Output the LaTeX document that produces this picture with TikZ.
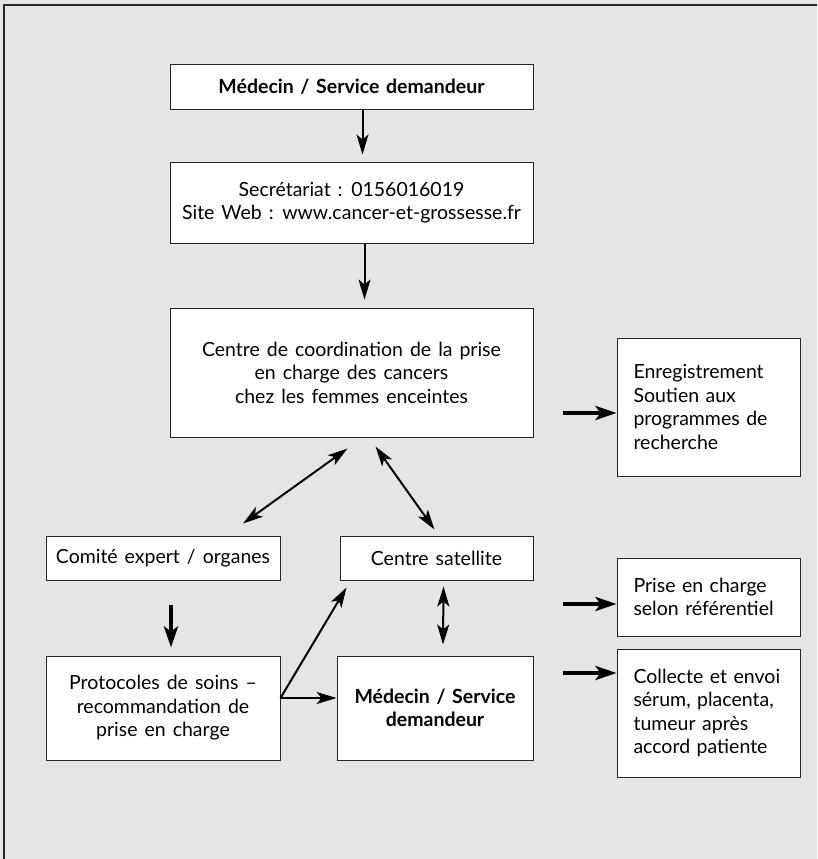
\documentclass[tikz,border=0pt]{standalone}
\usepackage{fontspec}
\setmainfont{Lato}[WordSpace={1.4}]
\usepackage{tikz}
\usetikzlibrary{arrows.meta}
\usetikzlibrary{positioning}
\tikzset{
  box/.style = {rectangle, draw=black!85, line width=1pt, fill=white,
    align=center, inner sep=0pt, font=\fontsize{19.5}{23.5}\selectfont},
  boldbox/.style = {box, font=\fontsize{19.5}{23.5}\selectfont\bfseries},
  sidebox/.style = {box, align=left, text width=150pt, minimum width=183pt},
  tip/.style = {Stealth[length=20pt,width=12pt,inset=5pt]},
  arr/.style = {-{Stealth[length=20pt,width=12pt,inset=5pt]}, line width=2pt},
  dblarr/.style = {{Stealth[length=20pt,width=12pt,inset=5pt]}-{Stealth[length=20pt,width=12pt,inset=5pt]},
    line width=2pt},
  fatarr/.style = {-{Stealth[length=21pt,width=14pt,inset=5pt]}, line width=4.5pt}
}

\begin{document}
\begin{tikzpicture}[x=1pt, y=-1pt]
  \useasboundingbox (0,0) rectangle (817,859);
  \fill[black!10] (0,0) rectangle (817,859);
  \draw[line width=2pt, black!85] (4,859) -- (4,5) -- (817,5);

  % main column
  \node (med top) [boldbox, minimum width=363pt, minimum height=44pt]
    at (351.5,87) {Médecin / Service demandeur};
  \node (secr) [box, minimum width=363pt, minimum height=81pt]
    at (351.5,202.5) {Secrétariat : 0156016019\\Site Web : www.cancer-et-grossesse.fr};
  \node (centre) [box, minimum width=363pt, minimum height=129pt]
    at (351.5,372.5) {Centre de coordination de la prise\\en charge des cancers\\chez les femmes enceintes};

  % second level
  \node (comite) [box, minimum width=234pt, minimum height=44pt]
    at (163,558) {Comité expert / organes};
  \node (satel) [box, minimum width=193pt, minimum height=44pt]
    at (436.5,558) {Centre satellite};
  \node (proto) [box, minimum width=234pt, minimum height=104pt]
    at (163,708) {Protocoles de soins --\\recommandation de\\prise en charge};
  \node (med bot) [boldbox, minimum width=196pt, minimum height=104pt]
    at (435,708) {Médecin / Service\\demandeur};

  % right column
  \node (enreg) [sidebox, minimum height=138pt]
    at (708.5,407) {Enregistrement\\Soutien aux\\programmes de\\recherche};
  \node (prise) [sidebox, minimum height=78pt]
    at (708.5,597) {Prise en charge\\selon référentiel};
  \node (collecte) [sidebox, minimum height=128pt]
    at (708.5,713) {Collecte et envoi\\sérum, placenta,\\tumeur après\\accord patiente};

  % connectors
  \draw [arr] ([xshift=11pt]med top.south) -- ([xshift=11pt, yshift=7pt]secr.north);
  \draw [arr] ([xshift=13pt]secr.south) -- ([xshift=13pt, yshift=8pt]centre.north);
  \draw [dblarr] ([xshift=-4pt, yshift=-11pt]centre.south) -- ([xshift=80pt, yshift=12pt]comite.north);
  \draw [dblarr] ([xshift=24pt, yshift=-9pt]centre.south) -- ([xshift=-2pt, yshift=6pt]satel.north);
  \draw [dblarr] ([xshift=7pt, yshift=-6pt]satel.south) -- ([xshift=8pt, yshift=11pt]med bot.north);
  \draw [fatarr] ([xshift=8pt, yshift=-24pt]comite.south) -- ([xshift=8pt, yshift=8pt]proto.north);
  \draw [arr] ([yshift=10pt]proto.east) -- ([xshift=7pt, yshift=-7pt]satel.south west);
  \draw [arr] ([yshift=10pt]proto.east) -- ([yshift=10pt]med bot.west);
  \draw [fatarr] ([xshift=-54pt, yshift=-6pt]enreg.west) -- ([yshift=-6pt]enreg.west);
  \draw [fatarr] ([xshift=-54pt, yshift=-7pt]prise.west) -- ([yshift=-7pt]prise.west);
  \draw [fatarr] ([xshift=-54pt, yshift=40pt]collecte.west) -- ([yshift=40pt]collecte.west);
\end{tikzpicture}
\end{document}
